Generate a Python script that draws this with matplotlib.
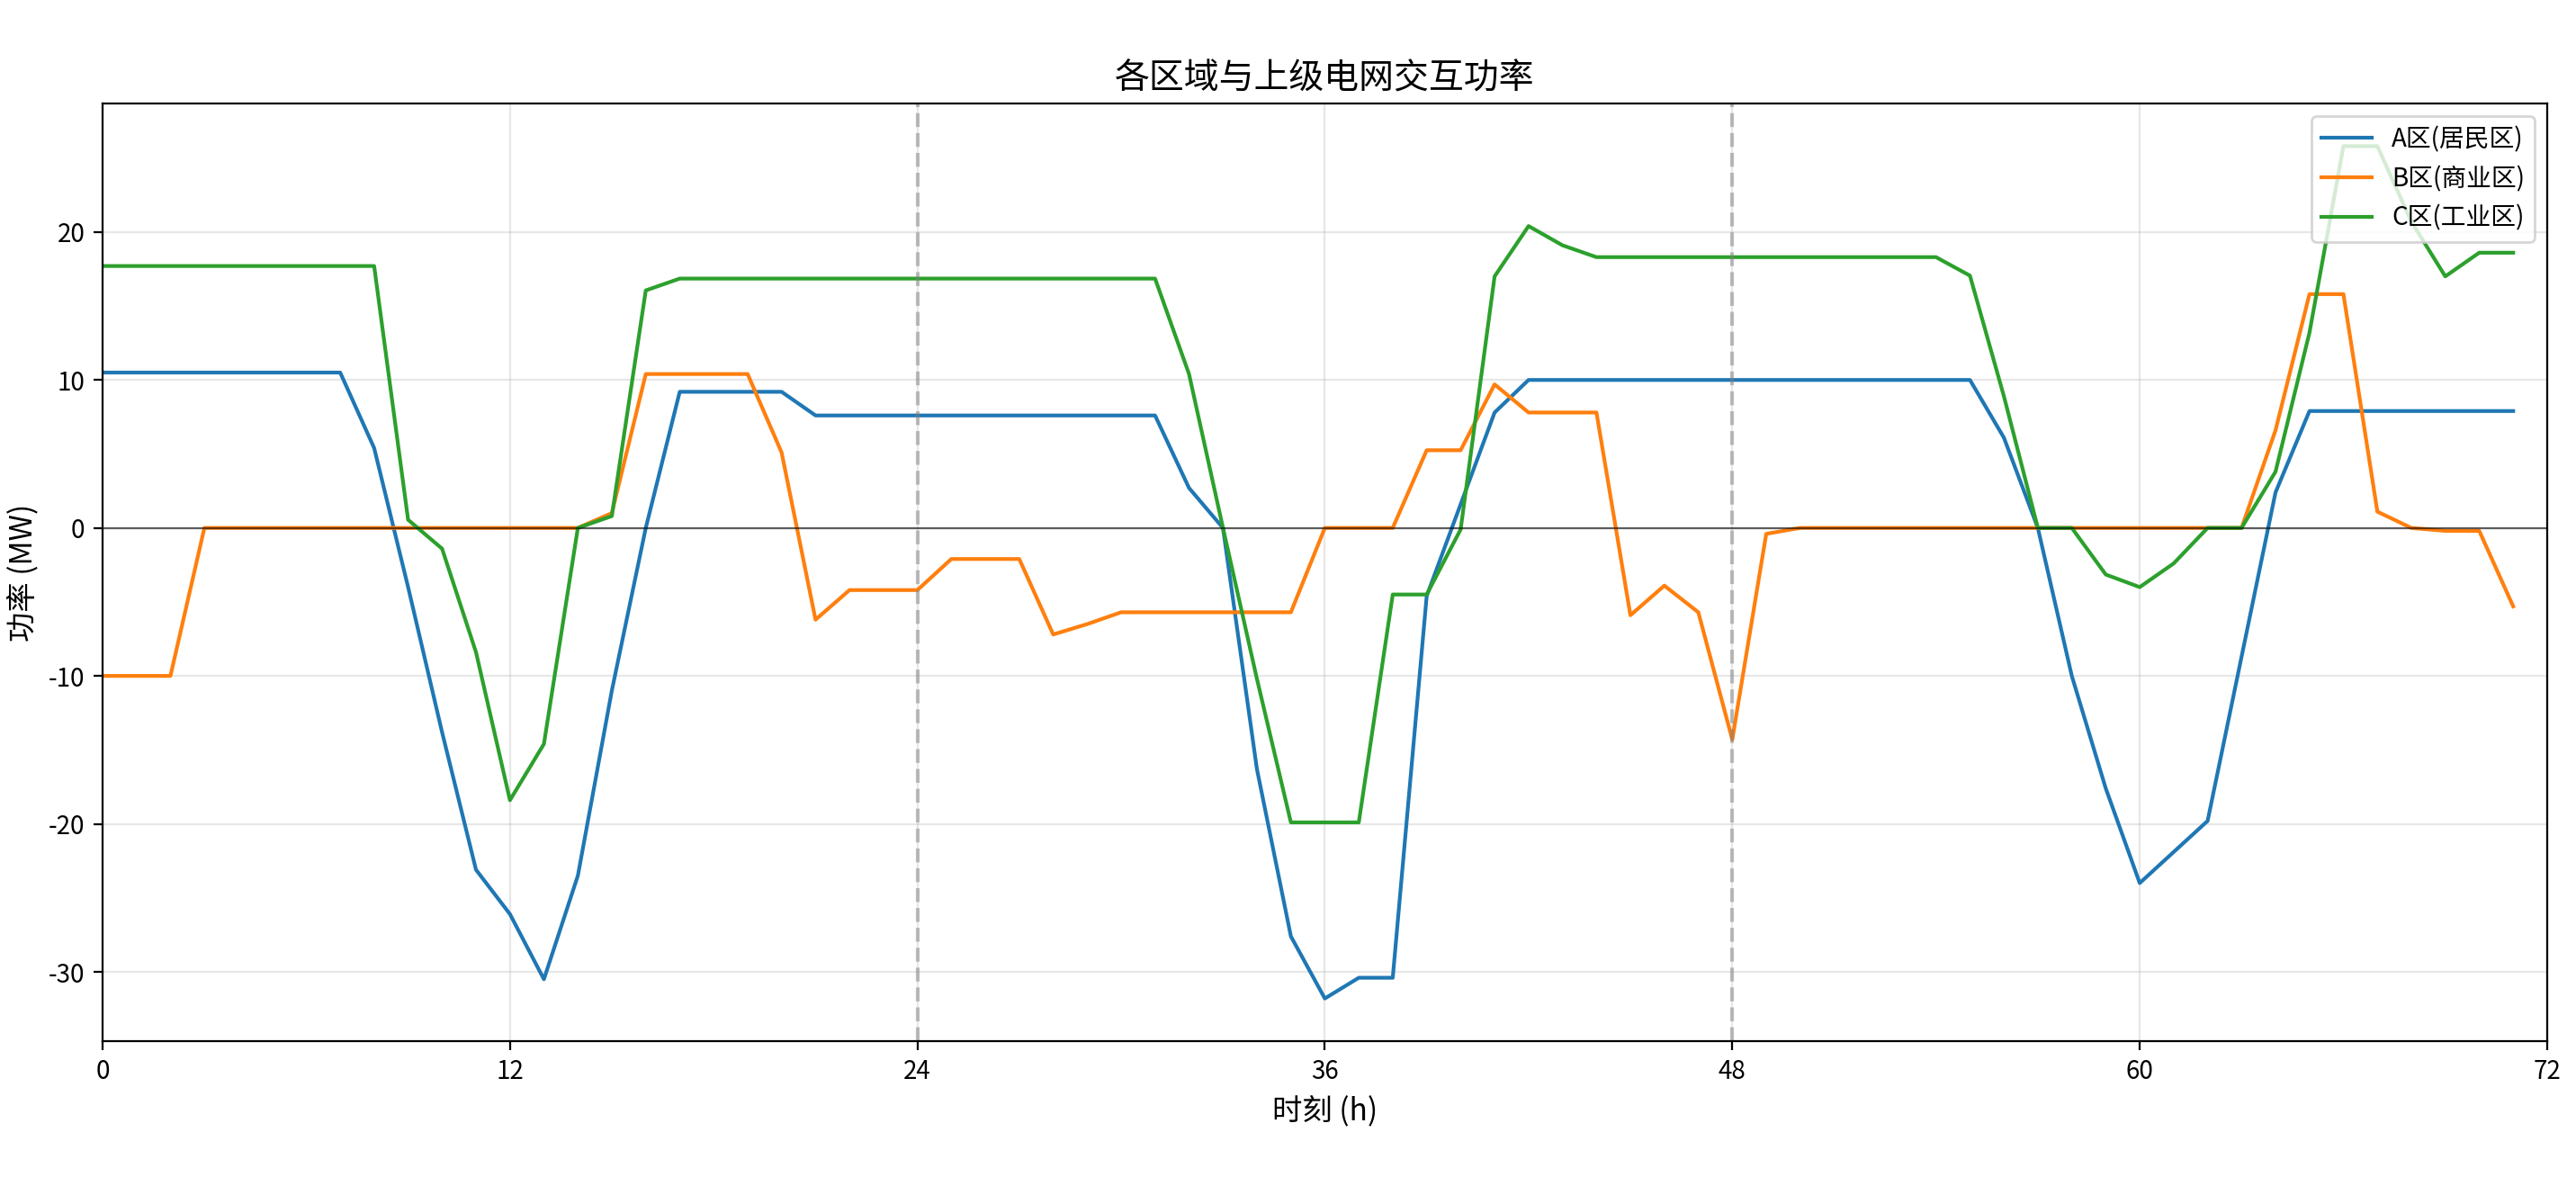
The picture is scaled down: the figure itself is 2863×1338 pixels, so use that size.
import matplotlib
matplotlib.use("Agg")
import matplotlib.pyplot as plt

plt.rcParams['font.family'] = ['Noto Sans CJK SC', 'DejaVu Sans']
plt.rcParams['axes.unicode_minus'] = False

hours = list(range(72))

zone_a = [10.5, 10.5, 10.5, 10.5, 10.5, 10.5, 10.5, 10.5, 5.4, -4.0,
          -13.8, -23.1, -26.1, -30.5, -23.5, -11.0, 0.0, 9.2, 9.2, 9.2,
          9.2, 7.6, 7.6, 7.6, 7.6, 7.6, 7.6, 7.6, 7.6, 7.6,
          7.6, 7.6, 2.7, 0.0, -16.3, -27.6, -31.8, -30.4, -30.4, -4.6,
          1.6, 7.8, 10.0, 10.0, 10.0, 10.0, 10.0, 10.0, 10.0, 10.0,
          10.0, 10.0, 10.0, 10.0, 10.0, 10.0, 6.1, 0.0, -10.0, -17.6,
          -24.0, -21.9, -19.8, -8.7, 2.4, 7.9, 7.9, 7.9, 7.9, 7.9,
          7.9, 7.9]

zone_b = [-10.0, -10.0, -10.0, 0.0, 0.0, 0.0, 0.0, 0.0, 0.0, 0.0,
          0.0, 0.0, 0.0, 0.0, 0.0, 1.0, 10.4, 10.4, 10.4, 10.4,
          5.1, -6.2, -4.2, -4.2, -4.2, -2.1, -2.1, -2.1, -7.2, -6.5,
          -5.7, -5.7, -5.7, -5.7, -5.7, -5.7, 0.0, 0.0, 0.0, 5.25,
          5.25, 9.7, 7.8, 7.8, 7.8, -5.9, -3.9, -5.7, -14.3, -0.4,
          0.0, 0.0, 0.0, 0.0, 0.0, 0.0, 0.0, 0.0, 0.0, 0.0,
          0.0, 0.0, 0.0, 0.0, 6.6, 15.8, 15.8, 1.1, 0.0, -0.2,
          -0.2, -5.3]

zone_c = [17.7, 17.7, 17.7, 17.7, 17.7, 17.7, 17.7, 17.7, 17.7, 0.55,
          -1.4, -8.4, -18.4, -14.6, 0.0, 0.8, 16.05, 16.85, 16.85, 16.85,
          16.85, 16.85, 16.85, 16.85, 16.85, 16.85, 16.85, 16.85, 16.85, 16.85,
          16.85, 16.85, 10.4, 0.0, -10.2, -19.9, -19.9, -19.9, -4.5, -4.5,
          -0.1, 17.0, 20.4, 19.1, 18.3, 18.3, 18.3, 18.3, 18.3, 18.3,
          18.3, 18.3, 18.3, 18.3, 18.3, 17.05, 8.9, 0.0, 0.0, -3.15,
          -4.0, -2.4, 0.0, 0.0, 3.8, 13.2, 25.8, 25.8, 20.7, 17.0,
          18.6, 18.6]

labels = ['A区(居民区)', 'B区(商业区)', 'C区(工业区)']
day_marks = [24, 48]
x_ticks = [0, 12, 24, 36, 48, 60, 72]

fig, ax = plt.subplots(figsize=(14.315, 6.69), dpi=200)
fig.subplots_adjust(left=0.0398, right=0.9888, top=0.914, bottom=0.1353)

ax.plot(hours, zone_a, label=labels[0], linewidth=1.5)
ax.plot(hours, zone_b, label=labels[1], linewidth=1.5)
ax.plot(hours, zone_c, label=labels[2], linewidth=1.5)

ax.axhline(0, color='black', linewidth=0.8, alpha=0.6)
for d in day_marks:
    ax.axvline(d, color='gray', linestyle='--', linewidth=1.5, alpha=0.5)

ax.set_xlim(0, 72)
ax.set_xticks(x_ticks)
ax.grid(True, alpha=0.3)
ax.set_title('各区域与上级电网交互功率', fontsize=14)
ax.set_xlabel('时刻 (h)', fontsize=12)
ax.set_ylabel('功率 (MW)', fontsize=12)
ax.legend(loc='upper right', fontsize=10)

fig.savefig('out.png', dpi=200)
